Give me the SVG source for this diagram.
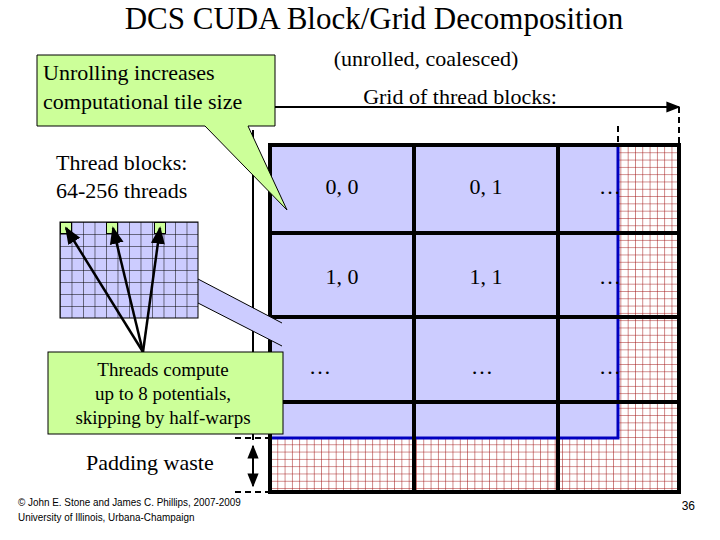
<svg xmlns="http://www.w3.org/2000/svg" width="720" height="540" viewBox="0 0 720 540">
<defs>
<pattern id="rg" x="270" y="145" width="7.3" height="7.3" patternUnits="userSpaceOnUse"><rect width="7.3" height="7.3" fill="#fff"/><path d="M0 0H7.3M0 0V7.3" stroke="#a01010" stroke-width="1" fill="none"/></pattern>
<pattern id="bg" x="60" y="222" width="11.5" height="12" patternUnits="userSpaceOnUse"><rect width="11.5" height="12" fill="#ccccff"/><path d="M0 0H11.5M0 0V12" stroke="#000" stroke-width="1" fill="none"/></pattern>
<marker id="ah" viewBox="0 0 10 10" refX="9" refY="5" markerWidth="7" markerHeight="7" orient="auto-start-reverse"><path d="M0 1L10 5L0 9z" fill="#000"/></marker>
</defs>
<style>
text{font-family:"Liberation Serif","Times New Roman",serif;fill:#000}
.s{font-family:"Liberation Sans",Arial,sans-serif}
.g{fill:#ccff99;stroke:#000;stroke-width:1}
.thick{stroke:#000;stroke-width:4;fill:none}
.dash{stroke:#000;stroke-width:2;stroke-dasharray:6,4;fill:none}
</style>
<rect width="720" height="540" fill="#fff"/>
<text x="374" y="29" font-size="31" text-anchor="middle">DCS CUDA Block/Grid Decomposition</text>
<g id="grid">
<rect x="270" y="145" width="409" height="347" fill="url(#rg)"/>
<rect x="270" y="145" width="348" height="293" fill="#ccccff"/>
<path d="M270 438H618V145" stroke="#0000c0" stroke-width="3" fill="none"/>
<path class="thick" d="M270 145H679V492H270Z M270 233H679 M270 317H679 M270 402H679 M414 145V492 M558 145V492"/>
<line x1="253" y1="130" x2="253" y2="440" stroke="#000" stroke-width="2"/>
</g>
<g id="labels">
<text x="342" y="194" text-anchor="middle" font-size="22">0, 0</text>
<text x="486" y="194" text-anchor="middle" font-size="22">0, 1</text>
<text x="610" y="194" text-anchor="middle" font-size="22">…</text>
<text x="342" y="284" text-anchor="middle" font-size="22">1, 0</text>
<text x="486" y="284" text-anchor="middle" font-size="22">1, 1</text>
<text x="610" y="284" text-anchor="middle" font-size="22">…</text>
<text x="320" y="374" text-anchor="middle" font-size="22">…</text>
<text x="482" y="374" text-anchor="middle" font-size="22">…</text>
<text x="610" y="374" text-anchor="middle" font-size="22">…</text>
<text x="426" y="66" text-anchor="middle" font-size="22">(unrolled, coalesced)</text>
<text x="460" y="104" text-anchor="middle" font-size="22">Grid of thread blocks:</text>
<text x="56" y="170" font-size="22">Thread blocks:</text>
<text x="56" y="198" font-size="22">64-256 threads</text>
<text x="86" y="470" font-size="22">Padding waste</text>
<text class="s" x="18" y="506" font-size="11" transform="translate(18 506) scale(0.9 1) translate(-18 -506)">© John E. Stone and James C. Phillips, 2007-2009</text>
<text class="s" x="18" y="521" font-size="11" transform="translate(18 521) scale(0.9 1) translate(-18 -521)">University of Illinois, Urbana-Champaign</text>
<text class="s" x="695" y="510" font-size="12" text-anchor="end">36</text>
</g>
<g id="connectors">
<line x1="270" y1="107" x2="679" y2="107" stroke="#000" stroke-width="2" marker-end="url(#ah)"/>
<path class="dash" d="M679 107V145 M618 126V145 M235 438H270 M235 492H270"/>
<line x1="253" y1="446" x2="253" y2="486" stroke="#000" stroke-width="2" marker-start="url(#ah)" marker-end="url(#ah)"/>
</g>
<g id="smallgrid">
<polygon points="198,279 198,303 282,346 282,323" fill="#ccccff"/>
<line x1="198" y1="279" x2="282" y2="323" stroke="#000"/>
<line x1="198" y1="303" x2="282" y2="346" stroke="#000"/>
<rect x="60" y="222" width="138" height="96" fill="url(#bg)" stroke="#000"/>
<rect x="60.5" y="222.5" width="11" height="11" fill="#ccff99" stroke="#000"/>
<rect x="106.5" y="222.5" width="11" height="11" fill="#ccff99" stroke="#000"/>
<rect x="154.5" y="222.5" width="11" height="11" fill="#ccff99" stroke="#000"/>
<g stroke="#000" stroke-width="2.5" marker-end="url(#ah)">
<line x1="143" y1="352" x2="66" y2="228"/>
<line x1="143" y1="352" x2="113" y2="228"/>
<line x1="143" y1="352" x2="160" y2="228"/>
</g>
</g>
<g id="callout1">
<path class="g" d="M37 55H275V126H248L287 210L205 126H37Z"/>
<text x="43" y="80" font-size="22">Unrolling increases</text>
<text x="43" y="109" font-size="22">computational tile size</text>
</g>
<g id="callout2">
<rect class="g" x="48" y="352" width="235" height="82"/>
<text x="163" y="376" font-size="19" text-anchor="middle">Threads compute</text>
<text x="163" y="400" font-size="19" text-anchor="middle">up to 8 potentials,</text>
<text x="163" y="424" font-size="19" text-anchor="middle">skipping by half-warps</text>
</g>
</svg>
